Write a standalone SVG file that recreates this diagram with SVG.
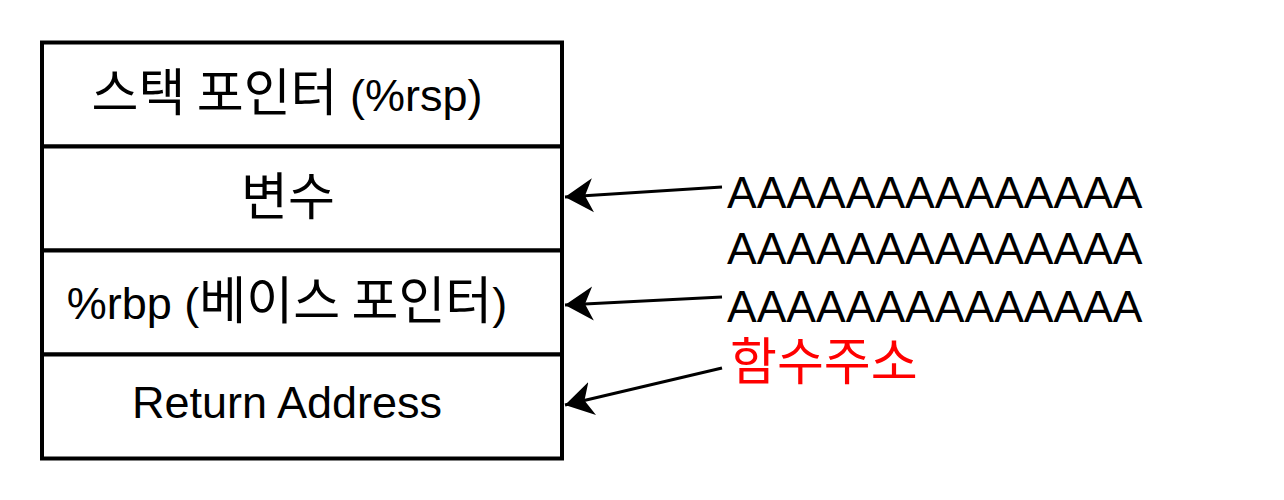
<svg xmlns="http://www.w3.org/2000/svg" width="1284" height="500" viewBox="0 0 1284 500">
<style>
.cell{fill:#fff;stroke:#000;stroke-width:4}
.lbl{font-family:"Liberation Sans","Noto Sans CJK KR",sans-serif;font-size:45px;fill:#000}
.k{font-family:"Noto Sans CJK KR",sans-serif;font-size:51px}
.c{text-anchor:middle}
.a{font-size:44.5px}
.red{fill:#FF0000}
.conn{stroke:#000;stroke-width:3;fill:none}
</style>
<defs>
<marker id="ah" viewBox="0 -18 30 36" refX="28" refY="0" markerWidth="30" markerHeight="36" markerUnits="userSpaceOnUse" orient="auto">
<path d="M28,0 L0,-17 L8,0 L0,17 Z" fill="#000"/>
</marker>
</defs>
<rect width="1284" height="500" fill="#fff"/>
<g id="stack-pointer"><rect class="cell" x="42" y="42.5" width="520" height="104"/><text class="lbl c" x="287" y="111"><tspan class="k">스택 포인터</tspan> (%rsp)</text></g>
<g id="variable"><rect class="cell" x="42" y="146.5" width="520" height="104"/><text class="lbl c k" x="288" y="215">변수</text></g>
<g id="base-pointer"><rect class="cell" x="42" y="250.5" width="520" height="104"/><text class="lbl c" x="287" y="319">%rbp (<tspan class="k">베이스 포인터</tspan>)</text></g>
<g id="return-address"><rect class="cell" x="42" y="354.5" width="520" height="104"/><text class="lbl c" x="287" y="418">Return Address</text></g>
<g id="payload">
<text class="lbl a" x="727" y="208">AAAAAAAAAAAAAA</text>
<text class="lbl a" x="727" y="264">AAAAAAAAAAAAAA</text>
<text class="lbl a" x="727" y="322">AAAAAAAAAAAAAA</text>
<text class="lbl k red" x="730" y="380">함수주소</text>
</g>
<g id="connectors">
<line class="conn" x1="722" y1="187" x2="565" y2="197" marker-end="url(#ah)"/>
<line class="conn" x1="722" y1="297" x2="565" y2="305" marker-end="url(#ah)"/>
<line class="conn" x1="722" y1="368" x2="565" y2="405" marker-end="url(#ah)"/>
</g>
</svg>
